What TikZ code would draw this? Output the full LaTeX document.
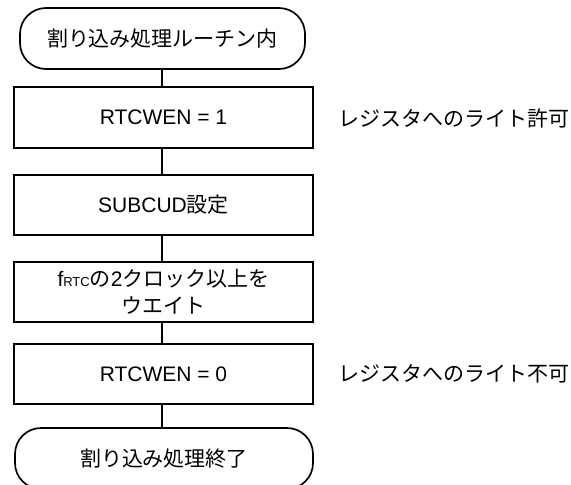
\documentclass[tikz,border=0pt]{standalone}
\usepackage{fontspec}
\setmainfont{Liberation Sans}
\newfontfamily\cjk{Noto Sans CJK JP}
\begin{document}
\begin{tikzpicture}[x=1pt,y=-1pt,
  every node/.style={font=\fontsize{21}{27}\selectfont},
  term/.style={draw,line width=1.7pt,rounded corners=26pt,minimum height=61pt,inner sep=0pt,align=center},
  procbox/.style={draw,line width=1.7pt,minimum width=299pt,minimum height=60pt,inner sep=0pt,align=center},
  note/.style={anchor=west,inner sep=0pt},
  conn/.style={line width=1.7pt}]
\useasboundingbox (0,0) rectangle (571,485);
\node[term,minimum width=285pt] (t1) at (162.5,38.5) {{\cjk 割り込み処理ルーチン内}};
\node[procbox,minimum height=61pt] (b1) at (163.5,117.5) {RTCWEN = 1};
\node[procbox] (b2) at (163.5,205) {SUBCUD{\cjk 設定}};
\node[procbox] (b3) at (163.5,292) {f{\fontsize{13}{13}\selectfont RTC}{\cjk の}2{\cjk クロック以上を}\\{\cjk ウエイト}};
\node[procbox] (b4) at (163.5,374) {RTCWEN = 0};
\node[term,minimum width=298pt] (t2) at (164,458.5) {{\cjk 割り込み処理終了}};
\node[note] (n1) at (338,118) {{\cjk レジスタへのライト許可}};
\node[note] (n2) at (338,374) {{\cjk レジスタへのライト不可}};
\draw[conn] (162,69) coordinate (c1) -- (c1 |- b1.north);
\draw[conn] (c1 |- b1.south) -- (c1 |- b2.north);
\draw[conn] (c1 |- b2.south) -- (c1 |- b3.north);
\draw[conn] (c1 |- b3.south) -- (c1 |- b4.north);
\draw[conn] (c1 |- b4.south) -- (c1 |- t2.north);
\end{tikzpicture}
\end{document}
